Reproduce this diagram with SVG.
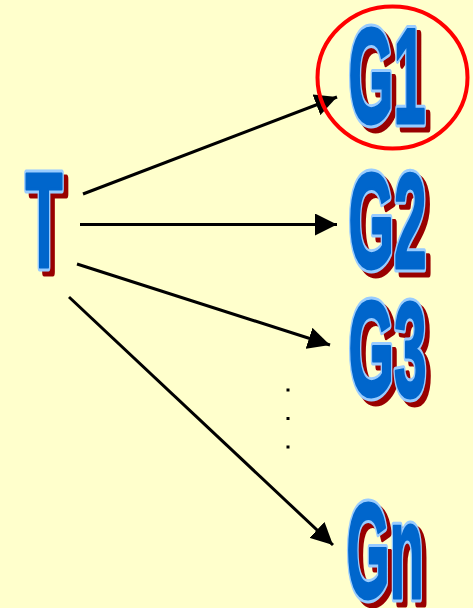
<svg xmlns="http://www.w3.org/2000/svg" width="473" height="608" viewBox="0 0 473 608">
  <style>
    .lbl { font-family: "Liberation Sans", Arial, sans-serif; font-weight: bold; font-size: 136px; }
    .shadow { fill: #990000; stroke: #990000; stroke-width: 9; stroke-linejoin: round; }
    .rim { fill: #99CCFF; stroke: #99CCFF; stroke-width: 9; stroke-linejoin: round; }
    .face { fill: #0066CC; stroke: #0066CC; stroke-width: 3; stroke-linejoin: round; }
    .edge { stroke: #000; stroke-width: 3; fill: none; marker-end: url(#head); }
    .dot { fill: #000; }
  </style>
  <defs>
    <marker id="head" markerUnits="userSpaceOnUse" markerWidth="22" markerHeight="22" refX="22" refY="11" orient="auto">
      <path d="M0,0 L22,11 L0,22 Z" fill="#000"/>
    </marker>
  </defs>
  <rect width="473" height="608" fill="#FFFFCC"/>

  <!-- connectors from T to each G -->
  <g id="connectors">
    <line class="edge" x1="83" y1="194" x2="337" y2="97"/>
    <line class="edge" x1="80" y1="224.5" x2="337" y2="224.5"/>
    <line class="edge" x1="77" y1="264" x2="330" y2="345"/>
    <line class="edge" x1="69" y1="297" x2="333" y2="545"/>
  </g>

  <g id="node-T">
    <text class="lbl shadow" x="30" y="272" textLength="37" lengthAdjust="spacingAndGlyphs">T</text>
    <text class="lbl rim" x="25.5" y="266.5" textLength="37" lengthAdjust="spacingAndGlyphs">T</text>
    <text class="lbl face" x="25.5" y="266.5" textLength="37" lengthAdjust="spacingAndGlyphs">T</text>
  </g>

  <g id="node-G1">
    <text class="lbl shadow" x="353" y="128" textLength="77" lengthAdjust="spacingAndGlyphs">G1</text>
    <text class="lbl rim" x="348.5" y="122.5" textLength="77" lengthAdjust="spacingAndGlyphs">G1</text>
    <text class="lbl face" x="348.5" y="122.5" textLength="77" lengthAdjust="spacingAndGlyphs">G1</text>
    <ellipse cx="392.5" cy="77.5" rx="75" ry="71" fill="none" stroke="#FF0000" stroke-width="4"/>
  </g>

  <g id="node-G2">
    <text class="lbl shadow" x="353" y="273" textLength="78" lengthAdjust="spacingAndGlyphs">G2</text>
    <text class="lbl rim" x="348.5" y="267.5" textLength="78" lengthAdjust="spacingAndGlyphs">G2</text>
    <text class="lbl face" x="348.5" y="267.5" textLength="78" lengthAdjust="spacingAndGlyphs">G2</text>
  </g>

  <g id="node-G3">
    <text class="lbl shadow" x="353" y="401" textLength="78" lengthAdjust="spacingAndGlyphs">G3</text>
    <text class="lbl rim" x="348.5" y="395.5" textLength="78" lengthAdjust="spacingAndGlyphs">G3</text>
    <text class="lbl face" x="348.5" y="395.5" textLength="78" lengthAdjust="spacingAndGlyphs">G3</text>
  </g>

  <g id="ellipsis">
    <rect class="dot" x="286.5" y="388.5" width="3" height="3"/>
    <rect class="dot" x="286.5" y="417" width="3" height="3"/>
    <rect class="dot" x="286.5" y="445.5" width="3" height="3"/>
  </g>

  <g id="node-Gn">
    <text class="lbl shadow" x="351" y="603" textLength="77" lengthAdjust="spacingAndGlyphs">Gn</text>
    <text class="lbl rim" x="346.5" y="597.5" textLength="77" lengthAdjust="spacingAndGlyphs">Gn</text>
    <text class="lbl face" x="346.5" y="597.5" textLength="77" lengthAdjust="spacingAndGlyphs">Gn</text>
  </g>
</svg>
